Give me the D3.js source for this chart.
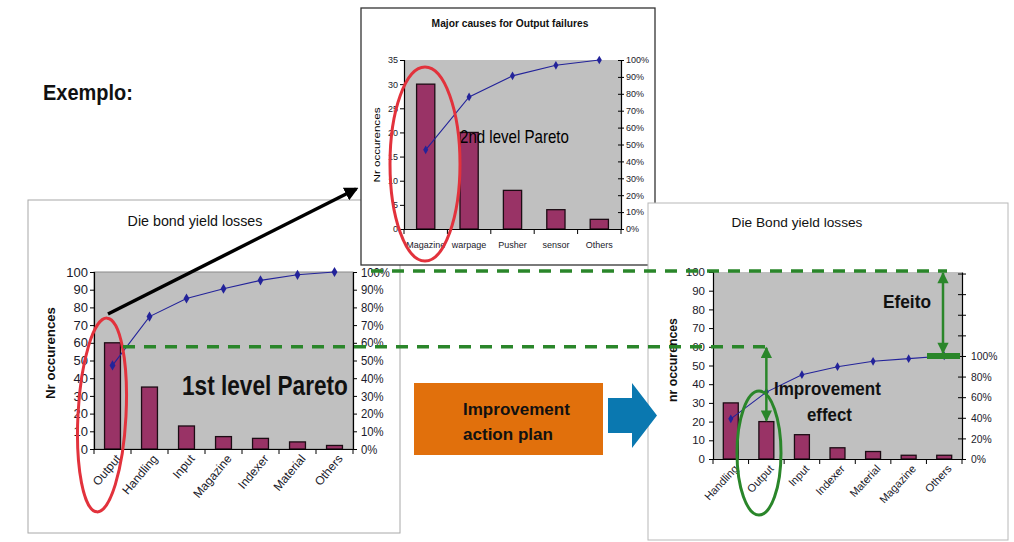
<!DOCTYPE html>
<html>
<head>
<meta charset="utf-8">
<script src="https://cdn.jsdelivr.net/npm/d3@7"></script>
<style>
  html, body { margin: 0; padding: 0; background: #ffffff; }
  svg { display: block; }
  text { font-family: "Liberation Sans", Arial, sans-serif; }
</style>
</head>
<body>
<script>
// First-level Pareto: die bond yield losses
const level1Cats = ["Output", "Handling", "Input", "Magazine", "Indexer", "Material", "Others"];
const level1Counts = [60, 35, 13, 7, 6, 4, 2];
const level1CountTicks = [0, 10, 20, 30, 40, 50, 60, 70, 80, 90, 100];
const level1PctTicks = [0, 0.1, 0.2, 0.3, 0.4, 0.5, 0.6, 0.7, 0.8, 0.9, 1.0];

// Second-level Pareto: major causes for Output failures
const level2Cats = ["Magazine", "warpage", "Pusher", "sensor", "Others"];
const level2Counts = [30, 20, 8, 4, 2];
const level2CountTicks = [0, 5, 10, 15, 20, 25, 30, 35];
const level2PctTicks = [0, 0.1, 0.2, 0.3, 0.4, 0.5, 0.6, 0.7, 0.8, 0.9, 1.0];

// After the improvement actions
const afterCats = ["Handling", "Output", "Input", "Indexer", "Material", "Magazine", "Others"];
const afterCounts = [30, 20, 13, 6, 4, 2, 2];
const afterCountTicks = [0, 10, 20, 30, 40, 50, 60, 70, 80, 90, 100];
const afterPctTicks = [0, 0.2, 0.4, 0.6, 0.8, 1.0, 1.2, 1.4, 1.6, 1.8];
const afterPctTop = 1.815;

const BAR = "#993366", LINE = "#23239a", PLOT = "#c0c0c0";
const GREEN = "#2a862a", RED = "#e2323c";

const svg = d3.select("body").append("svg").attr("width", 1014).attr("height", 542);

const defs = svg.append("defs");
defs.append("marker").attr("id", "blackHead").attr("viewBox", "0 0 10 10")
  .attr("refX", 8).attr("refY", 5).attr("markerWidth", 4).attr("markerHeight", 4)
  .attr("orient", "auto").attr("markerUnits", "strokeWidth")
  .append("path").attr("d", "M0,0 L10,5 L0,10 z").attr("fill", "#000");
defs.append("marker").attr("id", "greenHead").attr("viewBox", "0 0 10 10")
  .attr("refX", 9).attr("refY", 5).attr("markerWidth", 5).attr("markerHeight", 4.5)
  .attr("orient", "auto-start-reverse").attr("markerUnits", "strokeWidth")
  .append("path").attr("d", "M0,0 L10,5 L0,10 z").attr("fill", GREEN);

function panel(x0, y0, x1, y1, stroke, sw) {
  svg.append("rect").attr("x", x0).attr("y", y0).attr("width", x1 - x0).attr("height", y1 - y0)
    .attr("fill", "#fff").attr("stroke", stroke).attr("stroke-width", sw);
}

// Text placed at (x, y); when a width is given the glyphs are squeezed horizontally to it
function label(txt, x, y, size, opts = {}) {
  const t = svg.append("text").attr("x", 0).attr("y", 0).text(txt)
    .attr("font-size", size).attr("fill", opts.fill || "#111")
    .attr("font-weight", opts.bold ? "bold" : "normal")
    .attr("text-anchor", opts.anchor || "start");
  const sx = opts.len ? opts.len / t.node().getComputedTextLength() : 1;
  t.attr("transform", `translate(${x},${y}) rotate(${opts.rotate || 0}) scale(${sx},1)`);
  return t;
}

// Squeeze axis tick labels horizontally about their anchor point
function narrow(sel, s) {
  sel.each(function () {
    const el = d3.select(this);
    const x = +el.attr("x") || 0;
    el.attr("transform", `translate(${x},0) scale(${s},1) translate(${-x},0)`);
  });
}

function drawPareto(cfg) {
  const g = svg.append("g").attr("transform", `translate(${cfg.left},${cfg.top})`);
  const w = cfg.width, h = cfg.height;
  const x = d3.scaleBand().domain(cfg.cats).range([0, w]);
  const y = d3.scaleLinear().domain([0, cfg.yMax]).range([h, 0]);
  const y2 = d3.scaleLinear().domain([0, cfg.pctMax]).range([h, 0]);

  g.append("rect").attr("width", w).attr("height", h).attr("fill", PLOT)
    .attr("stroke", cfg.plotStroke || "none").attr("stroke-width", 1);

  const bw = x.bandwidth() * cfg.barFrac;
  g.selectAll("rect.bar").data(cfg.counts).join("rect").attr("class", "bar")
    .attr("x", (d, i) => x(cfg.cats[i]) + (x.bandwidth() - bw) / 2)
    .attr("y", d => y(d)).attr("width", bw).attr("height", d => h - y(d))
    .attr("fill", BAR).attr("stroke", "#1c0c14").attr("stroke-width", 1.3);

  const total = d3.sum(cfg.counts);
  const cum = Array.from(d3.cumsum(cfg.counts), v => v / total);
  const cx = i => x(cfg.cats[i]) + x.bandwidth() / 2;
  g.append("path").datum(cum)
    .attr("d", d3.line().x((d, i) => cx(i)).y(d => y2(d)))
    .attr("fill", "none").attr("stroke", LINE).attr("stroke-width", 1.1);
  g.selectAll("path.mk").data(cum).join("path").attr("class", "mk")
    .attr("transform", (d, i) => `translate(${cx(i)},${y2(d)})`)
    .attr("d", d3.symbol(d3.symbolDiamond, cfg.mk)).attr("fill", LINE);

  const fs = cfg.font;
  const yAxis = g.append("g").call(d3.axisLeft(y).tickValues(cfg.yTicks)
    .tickSize(cfg.tick).tickPadding(cfg.pad).tickFormat(d3.format("d")));
  const y2Axis = g.append("g").attr("transform", `translate(${w},0)`)
    .call(d3.axisRight(y2).tickValues(cfg.pctTicks)
      .tickSizeInner(cfg.tick2).tickSizeOuter(0).tickPadding(cfg.pad2)
      .tickFormat(d => d <= 1.0001 ? d3.format(".0%")(d) : ""));
  if (cfg.crossTicks) y2Axis.selectAll(".tick line").attr("x1", -cfg.tick2);

  const xAxis = g.append("g").attr("transform", `translate(0,${h})`)
    .call(d3.axisBottom(x).tickSize(0).tickPadding(cfg.xPad).tickSizeOuter(0));
  const bounds = cfg.cats.map(c => x(c)).concat([x.range()[1]]);
  xAxis.selectAll("line.bound").data(bounds).join("line").attr("class", "bound")
    .attr("x1", d => d).attr("x2", d => d).attr("y1", 0).attr("y2", cfg.tick + 1)
    .attr("stroke", "#000");

  [yAxis, y2Axis, xAxis].forEach(a => {
    a.attr("font-family", null).attr("font-size", null);
    a.select(".domain").attr("stroke", "#000").attr("stroke-width", 1.2);
    a.selectAll(".tick line").attr("stroke", "#000");
    a.selectAll("text").attr("font-size", fs).attr("fill", "#1a1a2a");
  });
  xAxis.selectAll(".tick text").attr("font-size", cfg.xFont || fs);
  if (cfg.narrowY) narrow(yAxis.selectAll(".tick text"), cfg.narrowY);
  if (cfg.narrowP) narrow(y2Axis.selectAll(".tick text"), cfg.narrowP);
  if (cfg.rotate) {
    xAxis.selectAll(".tick text").attr("text-anchor", "end")
      .attr("dy", "0.35em").attr("y", cfg.xPad)
      .attr("transform", `rotate(${cfg.rotate})`).attr("x", -2);
  }
  return { x, y, y2, g };
}

// ---- Left panel: first-level Pareto ----
panel(28, 200, 400, 533, "#a8a8a8", 1);
label("Die bond yield losses", 195, 226, 14, { anchor: "middle", len: 135 });
label("Nr occurences", 55, 353, 12, { anchor: "middle", bold: true, rotate: -90, len: 92 });
const p1 = drawPareto({
  left: 94, top: 272, width: 259, height: 177,
  cats: level1Cats, counts: level1Counts, yMax: 100, pctMax: 1,
  yTicks: level1CountTicks, pctTicks: level1PctTicks,
  barFrac: 0.43, mk: 30, font: 13, xFont: 12, tick: 4, pad: 2, tick2: 4, pad2: 4,
  xPad: 9, rotate: -50, plotStroke: "#8a8a8a", narrowP: 0.87
});
label("1st level Pareto", 182, 395, 28, { bold: true, len: 166 });

// ---- Top panel: second-level Pareto ----
panel(361, 8, 655, 265, "#333", 1.3);
label("Major causes for Output failures", 510, 27, 11, { anchor: "middle", bold: true, len: 157 });
label("Nr occurences", 380, 145, 9.5, { anchor: "middle", rotate: -90, len: 75, fill: "#000" });
const p2 = drawPareto({
  left: 404, top: 60, width: 217, height: 169,
  cats: level2Cats, counts: level2Counts, yMax: 35, pctMax: 1,
  yTicks: level2CountTicks, pctTicks: level2PctTicks,
  barFrac: 0.42, mk: 22, font: 9, tick: 4, pad: 2, tick2: 3, pad2: 2,
  xPad: 13, crossTicks: true
});
label("2nd level Pareto", 460, 143, 18, { len: 109, fill: "#000" });

// ---- Right panel: Pareto after improvement ----
panel(648, 203, 1008, 540, "#b8b8b8", 1);
label("Die Bond yield losses", 797, 227, 13, { anchor: "middle", len: 131 });
label("nr occurences", 677, 360, 12, { anchor: "middle", bold: true, rotate: -90, len: 84 });
const p3 = drawPareto({
  left: 713, top: 272, width: 249, height: 187,
  cats: afterCats, counts: afterCounts, yMax: 100, pctMax: afterPctTop,
  yTicks: afterCountTicks, pctTicks: afterPctTicks,
  barFrac: 0.42, mk: 22, font: 11.5, xFont: 11, tick: 4, pad: 4, tick2: 4, pad2: 5,
  xPad: 9, rotate: -47, crossTicks: true, narrowP: 0.9
});

// ---- Annotations, tied to the right chart's scales ----
const yA = v => 272 + p3.y(v);        // count scale, page coords
const yP = v => 272 + p3.y2(v);       // percent scale, page coords
const xA = c => 713 + p3.x(c) + p3.x.bandwidth() / 2;

// Black arrow linking Output to its breakdown
svg.append("line").attr("x1", 108).attr("y1", 314).attr("x2", 356).attr("y2", 189)
  .attr("stroke", "#000").attr("stroke-width", 3.5).attr("marker-end", "url(#blackHead)");

// Red ellipses around the Output and Magazine columns
svg.append("ellipse").attr("cx", 102).attr("cy", 415).attr("rx", 24).attr("ry", 97)
  .attr("transform", "rotate(3,102,415)")
  .attr("fill", "none").attr("stroke", RED).attr("stroke-width", 3);
svg.append("ellipse").attr("cx", 425).attr("cy", 164).attr("rx", 35).attr("ry", 97)
  .attr("fill", "none").attr("stroke", RED).attr("stroke-width", 3);

// Dashed reference levels
svg.append("line").attr("x1", 371).attr("x2", 947).attr("y1", yA(100) - 1).attr("y2", yA(100) - 1)
  .attr("stroke", GREEN).attr("stroke-width", 3.5).attr("stroke-dasharray", "12,9");
svg.append("line").attr("x1", 123).attr("x2", 770).attr("y1", yA(60)).attr("y2", yA(60))
  .attr("stroke", GREEN).attr("stroke-width", 3.5).attr("stroke-dasharray", "12,9");

// Improvement arrow on Output, effect arrow on the total
svg.append("line").attr("x1", xA("Output")).attr("x2", xA("Output"))
  .attr("y1", yA(60) + 1).attr("y2", yA(20) - 1)
  .attr("stroke", GREEN).attr("stroke-width", 2.5)
  .attr("marker-start", "url(#greenHead)").attr("marker-end", "url(#greenHead)");
svg.append("line").attr("x1", 943).attr("x2", 943)
  .attr("y1", yA(100) + 1).attr("y2", yP(1) - 3)
  .attr("stroke", GREEN).attr("stroke-width", 2.5)
  .attr("marker-start", "url(#greenHead)").attr("marker-end", "url(#greenHead)");
svg.append("line").attr("x1", 927).attr("x2", 960).attr("y1", yP(1)).attr("y2", yP(1))
  .attr("stroke", GREEN).attr("stroke-width", 6);
svg.append("ellipse").attr("cx", 759).attr("cy", 453).attr("rx", 22).attr("ry", 62)
  .attr("fill", "none").attr("stroke", GREEN).attr("stroke-width", 3);

label("Efeito", 883, 308, 18, { bold: true, len: 48 });
label("Improvement", 774, 395, 19, { bold: true, len: 107 });
label("effect", 807, 421, 19, { bold: true, len: 45 });

// Action plan box and block arrow
svg.append("rect").attr("x", 414).attr("y", 383).attr("width", 189).attr("height", 72).attr("fill", "#e1700c");
label("Improvement", 463, 415, 17, { bold: true, len: 107 });
label("action plan", 463, 440, 17, { bold: true, len: 90 });
svg.append("path").attr("d", "M608,398 L632,398 L632,383 L657,415.5 L632,448 L632,433 L608,433 Z")
  .attr("fill", "#0a78b0");

label("Exemplo:", 43, 100, 22, { bold: true, len: 90 });
</script>
</body>
</html>
